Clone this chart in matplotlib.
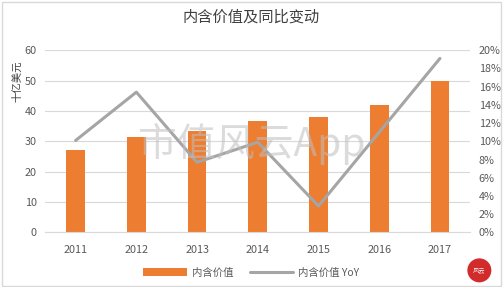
import matplotlib.pyplot as plt
from matplotlib.patches import Rectangle, Ellipse
from matplotlib.ticker import PercentFormatter

plt.rcParams['font.family'] = ['Noto Sans CJK SC', 'DejaVu Sans']

# data
years = ['2011', '2012', '2013', '2014', '2015', '2016', '2017']
ev = [27.0, 31.3, 33.5, 36.8, 38.1, 42.1, 50.0]          # 内含价值, 十亿美元
ev_yoy = [10.1, 15.4, 7.7, 9.9, 2.9, 11.0, 19.1]          # 内含价值 YoY, %

bar_color = '#ED7D31'
line_color = '#A5A5A5'
tick_color = '#595959'

fig = plt.figure(figsize=(5.03, 2.87), dpi=100)
ax = fig.add_axes([0.09, 0.19, 0.845, 0.635])
ax2 = ax.twinx()

x = list(range(len(years)))
b = ax.bar(x, ev, width=0.31, color=bar_color, zorder=2, label='内含价值')
l, = ax2.plot(x, ev_yoy, color=line_color, linewidth=2.2, label='内含价值 YoY',
              solid_capstyle='round')

ax.set_xlim(-0.5, len(years) - 0.5)
ax.set_ylim(0, 60)
ax.set_yticks(range(0, 61, 10))
ax2.set_ylim(0, 20)
ax2.set_yticks(range(0, 21, 2))
ax2.yaxis.set_major_formatter(PercentFormatter(decimals=0))
ax.set_xticks(x)
ax.set_xticklabels(years)

ax.grid(axis='y', color='#D9D9D9', linewidth=0.8, zorder=0)
ax.set_axisbelow(True)
for a in (ax, ax2):
    for s in a.spines.values():
        s.set_visible(False)
    a.tick_params(length=0, labelsize=7.8, colors=tick_color, pad=6)
ax.tick_params(axis='x', pad=9)
ax.spines['bottom'].set_visible(True)
ax.spines['bottom'].set_color('#D9D9D9')

ax.set_ylabel('十亿美元', fontsize=7.5, color='#404040')
ax.yaxis.set_label_coords(-0.055, 0.83)

fig.text(0.5, 0.94, '内含价值及同比变动', ha='center', va='center',
         fontsize=11, color='#404040', fontweight='light')

# watermark
fig.text(0.5, 0.5, '市值风云App', ha='center', va='center', fontsize=28,
         color='#BFBFBF', alpha=0.55, zorder=5, fontweight='light')

fig.legend(handles=[b, l], loc='lower center', bbox_to_anchor=(0.5, 0.0),
           ncol=2, frameon=False, fontsize=7.5, handlelength=4.2,
           columnspacing=1.5, handletextpad=0.5, labelcolor=tick_color)

# logo at bottom right
fig.patches.append(Ellipse((0.953, 0.058), 24 / 503, 24 / 287,
                           transform=fig.transFigure,
                           facecolor='#D22B2B', edgecolor='none'))
fig.text(0.953, 0.058, '风云', ha='center', va='center', fontsize=4.5,
         color='white')

# light frame around the figure
fig.patches.append(Rectangle((0.003, 0.004), 0.994, 0.99, transform=fig.transFigure,
                             fill=False, edgecolor='#D9D9D9', linewidth=1))

fig.savefig('out.png', dpi=100)
